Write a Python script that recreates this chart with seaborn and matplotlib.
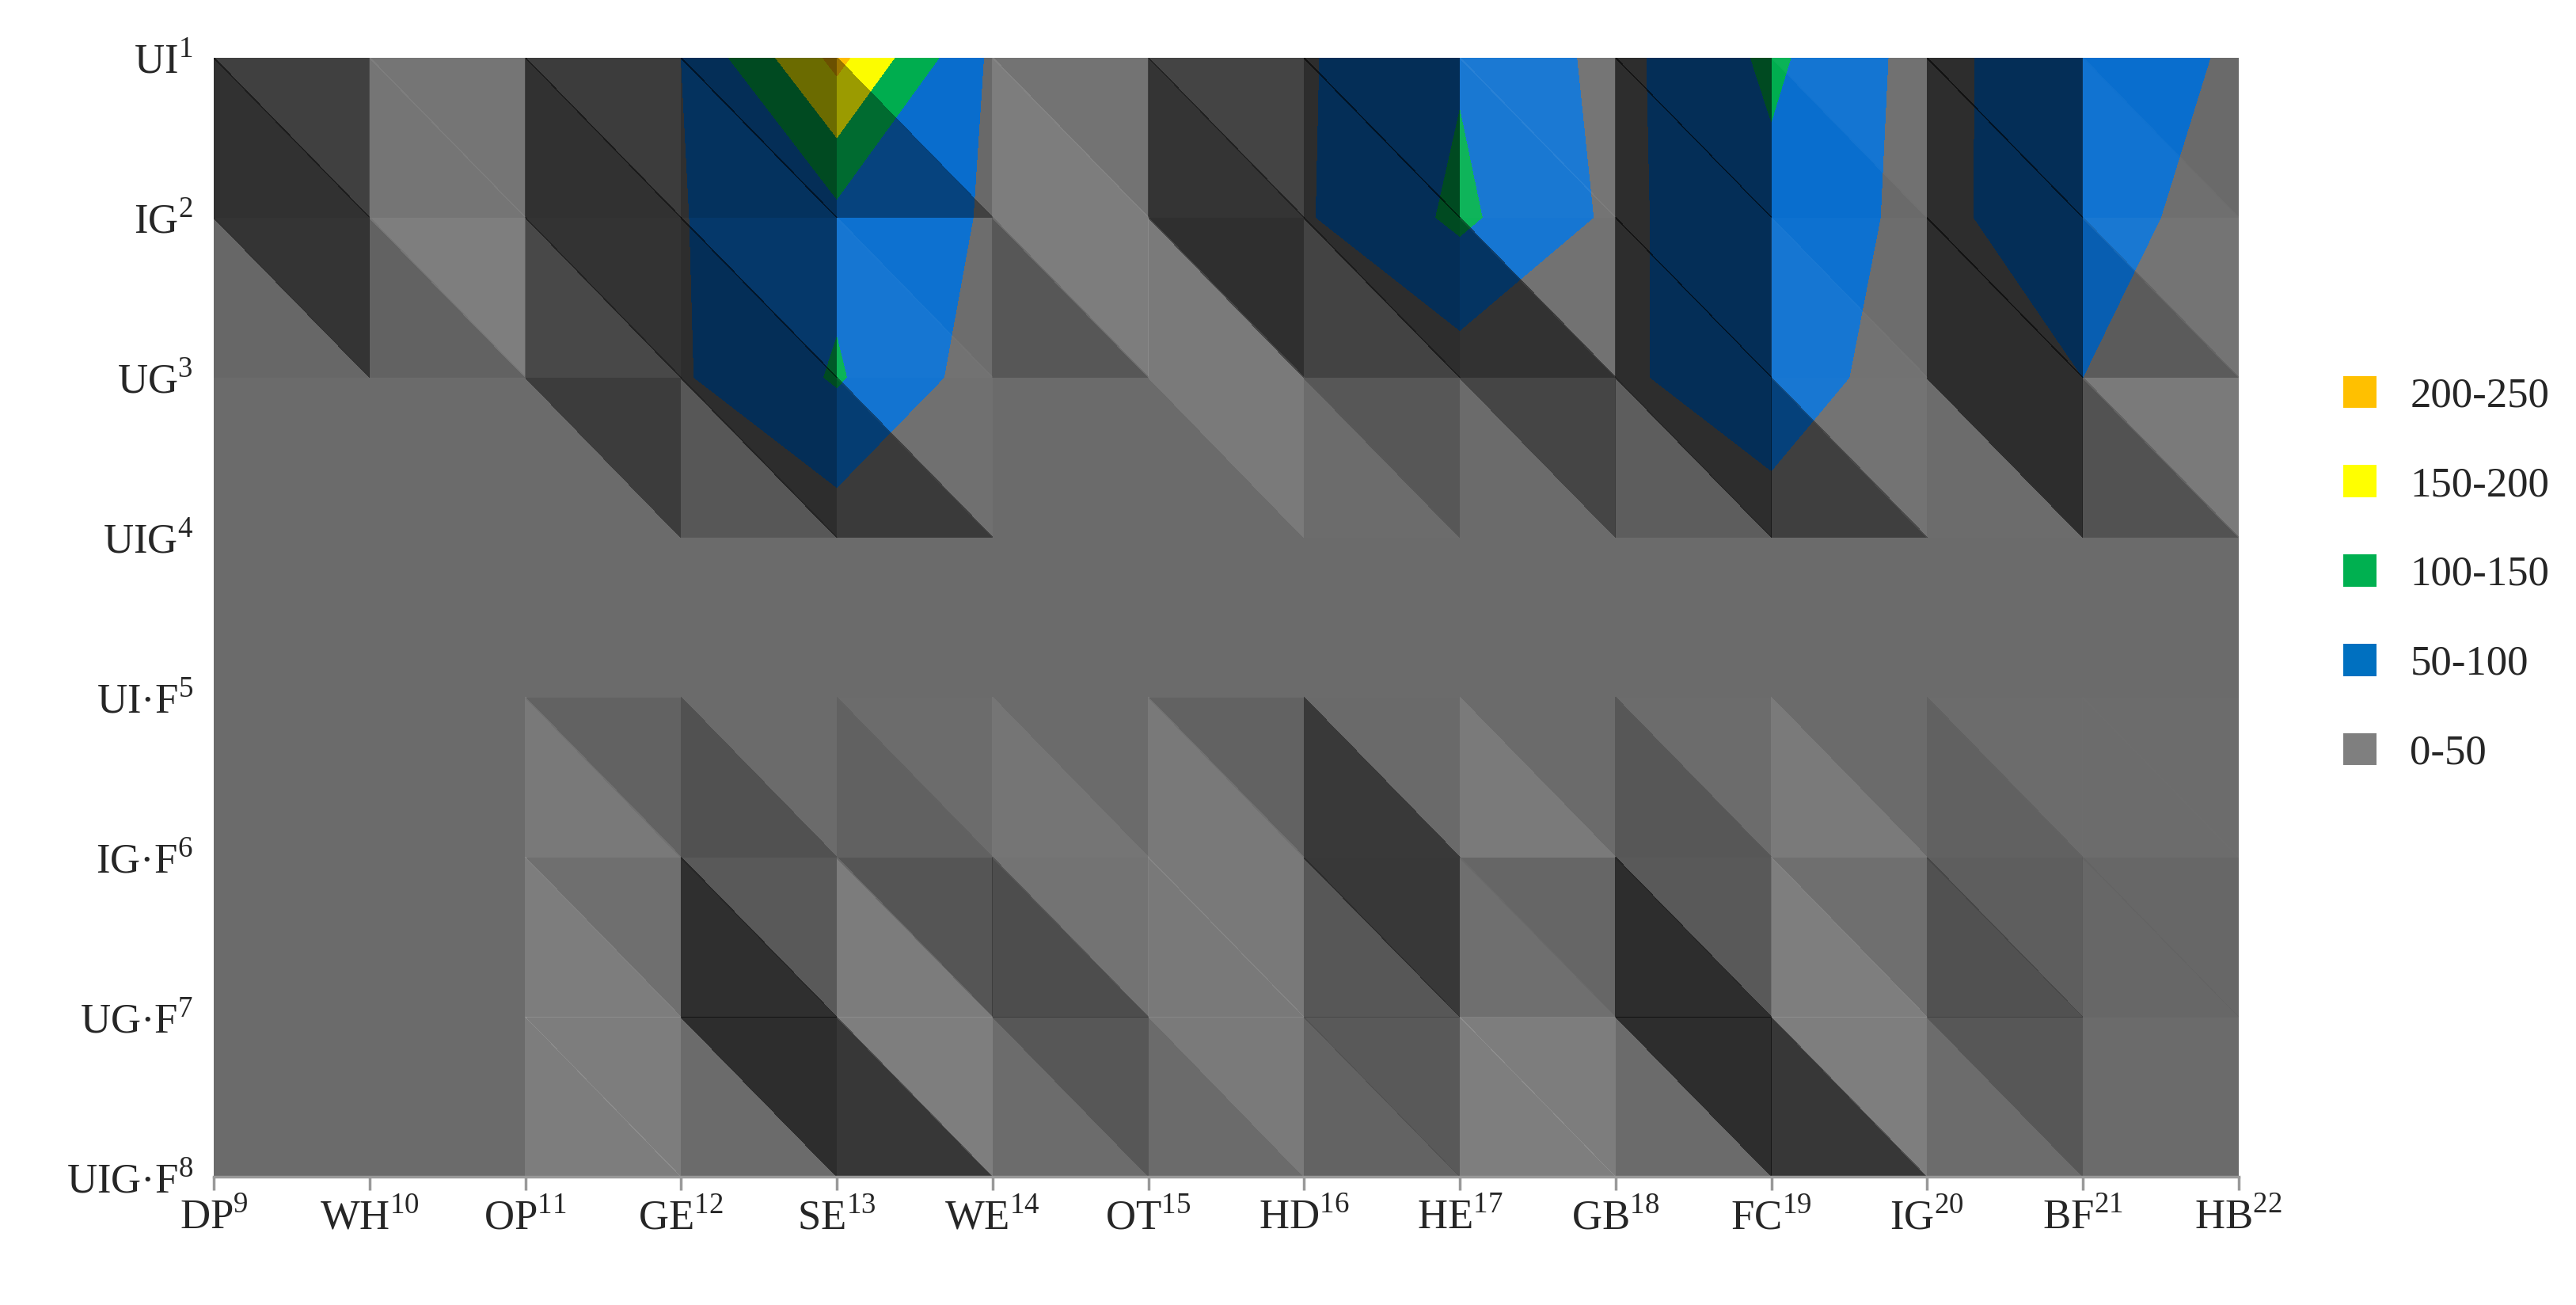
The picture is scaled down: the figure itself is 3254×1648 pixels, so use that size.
import numpy as np
import matplotlib
matplotlib.use("Agg")
import matplotlib.pyplot as plt
import matplotlib.tri as mtri
from matplotlib.colors import ListedColormap
import seaborn as sns
from matplotlib.patches import Patch

sns.set_theme(style="white")
plt.rcParams['font.family'] = ['Liberation Serif', 'DejaVu Serif']
plt.rcParams['mathtext.fontset'] = 'custom'
plt.rcParams['mathtext.rm'] = 'Liberation Serif'

x_labels = ["DP$^{9}$", "WH$^{10}$", "OP$^{11}$", "GE$^{12}$", "SE$^{13}$", "WE$^{14}$", "OT$^{15}$",
            "HD$^{16}$", "HE$^{17}$", "GB$^{18}$", "FC$^{19}$", "IG$^{20}$", "BF$^{21}$", "HB$^{22}$"]
y_labels = ["UI$^{1}$", "IG$^{2}$", "UG$^{3}$", "UIG$^{4}$", "UI·F$^{5}$", "IG·F$^{6}$", "UG·F$^{7}$", "UIG·F$^{8}$"]

row_UI   = [25, 45, 25, 50, 215, 40, 25, 45, 95, 35, 110, 30, 95, 40]
row_IG   = [5, 35, 15, 48, 85, 45, 15, 45, 110, 40, 85, 35, 85, 15]
row_UG   = [25, 25, 25, 45, 105, 25, 25, 15, 25, 40, 85, 15, 50, 30]
row_UIG  = [25, 25, 25, 25, 25, 25, 25, 25, 25, 25, 25, 25, 25, 25]
row_UIF  = [25, 25, 25, 25, 25, 25, 25, 25, 25, 25, 25, 25, 25, 25]
row_IGF  = [25, 25, 25, 15, 25, 30, 25, 15, 40, 25, 35, 25, 30, 30]
row_UGF  = [25, 25, 25, 5, 40, 15, 25, 15, 25, 5, 40, 15, 25, 25]
row_UIGF = [25, 25, 25, 5, 5, 25, 25, 25, 30, 5, 5, 25, 25, 25]

Z = np.array([row_UI, row_IG, row_UG, row_UIG, row_UIF, row_IGF, row_UGF, row_UIGF], dtype=float)
ny, nx = Z.shape

X, Y = np.meshgrid(np.arange(nx), np.arange(ny))
xf, yf, zf = X.ravel(), Y.ravel(), Z.ravel()
tris = []
for i in range(ny - 1):
    for j in range(nx - 1):
        a = i * nx + j; b = a + 1; c = a + nx; d = c + 1
        tris.append([a, b, d]); tris.append([a, d, c])
tris = np.array(tris)
tri = mtri.Triangulation(xf, yf, tris)
zs = zf / 25.0
p0 = np.stack([xf, yf, zs], 1)[tris]
n = np.cross(p0[:, 1] - p0[:, 0], p0[:, 2] - p0[:, 0])
n /= np.linalg.norm(n, axis=1)[:, None]
n[n[:, 2] < 0] *= -1
L = np.array([1.0, -0.3, 1.2]); L /= np.linalg.norm(L)
shade = np.clip(1.1 * (n @ L - L[2]), -1, 1)
dark = np.clip(-shade, 0, 1) * 0.58
light = np.clip(shade, 0, 1) * 0.5

fig = plt.figure(figsize=(16.27, 8.24), dpi=200)
ax = fig.add_axes([0.083, 0.098, 0.786, 0.858])
levels = [0, 50, 100, 150, 200, 250]
colors = ["#6b6b6b", "#0a6fd0", "#00b050", "#ffff00", "#ffc000"]
ax.contourf(X, Y, Z, levels=levels, colors=colors)
cd = ax.tripcolor(tri, facecolors=np.zeros(len(tris)), cmap=ListedColormap(["black"]),
                  edgecolors='none', antialiased=False)
cd.set_alpha(dark)
cl = ax.tripcolor(tri, facecolors=np.zeros(len(tris)), cmap=ListedColormap(["white"]),
                  edgecolors='none', antialiased=False)
cl.set_alpha(light)
ax.set_xlim(0, nx - 1)
ax.set_ylim(ny - 1, 0)
ax.set_xticks(range(nx))
ax.set_xticklabels(x_labels, fontsize=19)
ax.set_yticks(range(ny))
ax.set_yticklabels(y_labels, fontsize=19)
ax.tick_params(axis='both', length=6, color="#999999", direction='out', bottom=True, left=False)
for s in ax.spines.values():
    s.set_visible(False)
ax.spines['bottom'].set_visible(True)
ax.spines['bottom'].set_color("#999999")

leg_labels = ["200-250", "150-200", "100-150", "50-100", "0-50"]
leg_colors = ["#ffc000", "#ffff00", "#00b050", "#0070c0", "#7f7f7f"]
handles = [Patch(facecolor=c, edgecolor='none') for c in leg_colors]
fig.legend(handles, leg_labels, loc='center left', bbox_to_anchor=(0.895, 0.56), frameon=False,
           fontsize=19, handlelength=0.8, handleheight=0.8, labelspacing=1.2)
fig.savefig("out.png", dpi=200, facecolor="white")
